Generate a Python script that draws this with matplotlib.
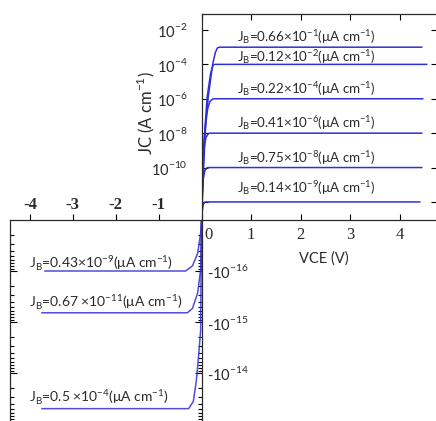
import numpy as np
import matplotlib
matplotlib.use("Agg")
import matplotlib.pyplot as plt
import matplotlib.ticker as mticker
import matplotlib.transforms as mtransforms

SANS = "Lato"
SERIF = "Liberation Serif"
LINE = "#2f2fd6"
INK = "#2a2a2a"

# forward (positive VCE) branch: one curve per base current density
jb_fwd = [("0.66", "-1"), ("0.12", "-2"), ("0.22", "-4"),
          ("0.41", "-6"), ("0.75", "-8"), ("0.14", "-9")]
vce_fwd = [
    [0.0, 0.02, 0.047, 0.08, 0.135, 0.23, 0.28, 0.32, 0.36, 4.44],
    [0.0, 0.012, 0.027, 0.067, 0.115, 0.18, 0.21, 0.24, 0.27, 4.54],
    [0.0, 0.02, 0.04, 0.07, 0.10, 0.13, 0.17, 0.22, 0.25, 4.46],
    [0.0, 0.02, 0.04, 0.06, 0.09, 0.14, 0.17, 4.44],
    [0.0, 0.02, 0.04, 0.07, 0.115, 0.14, 4.44],
    [0.0, 0.015, 0.035, 0.067, 0.09, 4.40],
]
jc_fwd = [
    [1e-13, 2e-12, 2e-10, 1.6e-8, 1.3e-6, 1.2e-4, 5e-4, 9e-4, 1e-3, 1e-3],
    [1e-13, 2e-12, 2e-10, 1.6e-8, 1.3e-6, 2.5e-5, 6e-5, 9.5e-5, 1e-4, 1e-4],
    [1e-13, 3e-11, 1e-9, 1.6e-8, 1e-7, 3e-7, 7e-7, 9.5e-7, 1e-6, 1e-6],
    [1e-13, 1e-11, 3e-10, 2e-9, 5.6e-9, 9.5e-9, 1e-8, 1e-8],
    [1e-13, 4e-12, 2.5e-11, 7e-11, 9.8e-11, 1e-10, 1e-10],
    [1e-13, 3e-13, 7e-13, 9.8e-13, 1e-12, 1e-12],
]

# reverse (negative VCE) branch
jb_rev = [("0.43", "-9"), ("0.67 ", "-11"), ("0.5 ", "-4")]
vce_rev = [
    [-3.65, -0.37, -0.21, -0.09, -0.02, 0.0],
    [-3.72, -0.33, -0.21, -0.09, -0.02, 0.0],
    [-3.72, -0.30, -0.19, -0.12, -0.07, -0.02, 0.0],
]
jc_rev = [
    [-1e-16, -1e-16, -7.9e-17, -4.5e-17, -1.8e-17, -1e-17],
    [-6.6e-16, -6.6e-16, -5.4e-16, -2.7e-16, -9.5e-17, -1e-17],
    [-5e-14, -5e-14, -3.6e-14, -1.4e-14, -4.9e-15, -1.45e-15, -1e-17],
]

fwd_xticks = [0, 1, 2, 3, 4]
fwd_yticks = [1e-2, 1e-4, 1e-6, 1e-8, 1e-10, 1e-12]
rev_xticks = [-4, -3, -2, -1]
rev_yticks = [1e-16, 1e-15, 1e-14]

# label lift above each curve, pixels
lift_fwd = [5, 2, 5, 5, 5, 9]
lift_rev = [3, 6, 7]


def sup(s):
    return r"$^{\mathregular{" + s + "}}$"


def jb_label(mant, exp):
    return ("J" + r"$_{\mathregular{B}}$" + "=" + mant + "×10" + sup(exp)
            + "(μA cm" + sup("-1") + ")")


W, H = 436, 421


def px_rect(x0, y0, x1, y1):
    return [x0 / W, 1 - y1 / H, (x1 - x0) / W, (y1 - y0) / H]


fig = plt.figure(figsize=(W / 100, H / 100), dpi=100)
ax_up = fig.add_axes(px_rect(201.5, 14, 437, 220))
ax_lo = fig.add_axes(px_rect(10, 220, 201.5, 424))

# upper panel: forward characteristics
for v, j, (m, e), dy in zip(vce_fwd, jc_fwd, jb_fwd, lift_fwd):
    ax_up.plot(v, j, color=LINE, lw=1.1)
    ax_up.annotate(jb_label(m, e), xy=(0.72, j[-1]),
                   xytext=(0, dy), textcoords="offset pixels",
                   ha="left", va="baseline", fontsize=9.6, family=SANS, color=INK)

ax_up.set_yscale("log")
ax_up.set_xlim(0, (437 - 201.5) / 49.6)
ax_up.set_ylim(10 ** -13.05, 10 ** -1.07)
ax_up.yaxis.set_major_locator(mticker.FixedLocator(fwd_yticks))
ax_up.yaxis.set_minor_locator(mticker.NullLocator())
ax_up.set_yticklabels(["10" + sup("%d" % round(np.log10(t))) if t > 1e-11 else ""
                       for t in fwd_yticks], family=SANS, fontsize=10.5, color=INK)
ax_up.set_xticks(fwd_xticks)
ax_up.set_xticklabels([str(t) for t in fwd_xticks], family=SERIF, fontsize=12, color=INK)
ax_up.tick_params(direction="in", length=4, width=0.8, top=True, right=True)
ax_up.tick_params(axis="x", pad=5)
ax_up.tick_params(axis="y", pad=10)
ax_up.set_xlabel("VCE (V)", family=SANS, fontsize=10.5, color=INK)
ax_up.set_ylabel("JC (A cm" + sup("-1") + ")", family=SANS, fontsize=12, color=INK)
ax_up.yaxis.set_label_coords(-0.19, 0.52)
ax_up.xaxis.set_label_coords(0.52, -0.15)
for s in ax_up.spines.values():
    s.set_color(INK)
    s.set_linewidth(0.9)
ax_up.patch.set_alpha(0)

t0 = ax_up.xaxis.get_major_ticks()[0]
t0.label1.set_transform(t0.label1.get_transform()
                        + mtransforms.ScaledTranslation(0.07, 0, fig.dpi_scale_trans))

# lower panel: reverse characteristics, magnitude on an inverted log axis
for v, j, (m, e), dy in zip(vce_rev, jc_rev, jb_rev, lift_rev):
    mag = -np.array(j)
    ax_lo.plot(v, mag, color=LINE, lw=1.1, alpha=0.85)
    ax_lo.annotate(jb_label(m, e), xy=(-4.02, mag[0]),
                   xytext=(0, dy), textcoords="offset pixels",
                   ha="left", va="baseline", fontsize=10, family=SANS, color=INK)

ax_lo.set_yscale("log")
ax_lo.set_xlim(-4 - 20 / 42.9, 0)
ax_lo.set_ylim(1e-13, 1e-17)
ax_lo.yaxis.set_major_locator(mticker.FixedLocator(rev_yticks))
ax_lo.yaxis.set_minor_locator(mticker.LogLocator(base=10, subs=np.arange(2, 10)))
ax_lo.yaxis.set_minor_formatter(mticker.NullFormatter())
ax_lo.set_yticklabels(["-10" + sup("%d" % round(np.log10(t))) for t in rev_yticks],
                      family=SANS, fontsize=10.5, color=INK)
ax_lo.set_xticks(rev_xticks)
ax_lo.set_xticklabels([str(t) for t in rev_xticks], family=SERIF, fontsize=12,
                      color=INK, weight="bold")
ax_lo.xaxis.tick_top()
ax_lo.tick_params(axis="x", direction="out", length=4, width=0.8, pad=1)
ax_lo.tick_params(axis="y", which="both", direction="in", left=True, right=True,
                  labelleft=False, labelright=True, width=0.8, pad=4)
ax_lo.tick_params(axis="y", which="major", length=5)
ax_lo.tick_params(axis="y", which="minor", length=3)
for s in ax_lo.spines.values():
    s.set_color(INK)
    s.set_linewidth(0.9)
ax_lo.patch.set_alpha(0)

fig.savefig("out.png", dpi=100)
